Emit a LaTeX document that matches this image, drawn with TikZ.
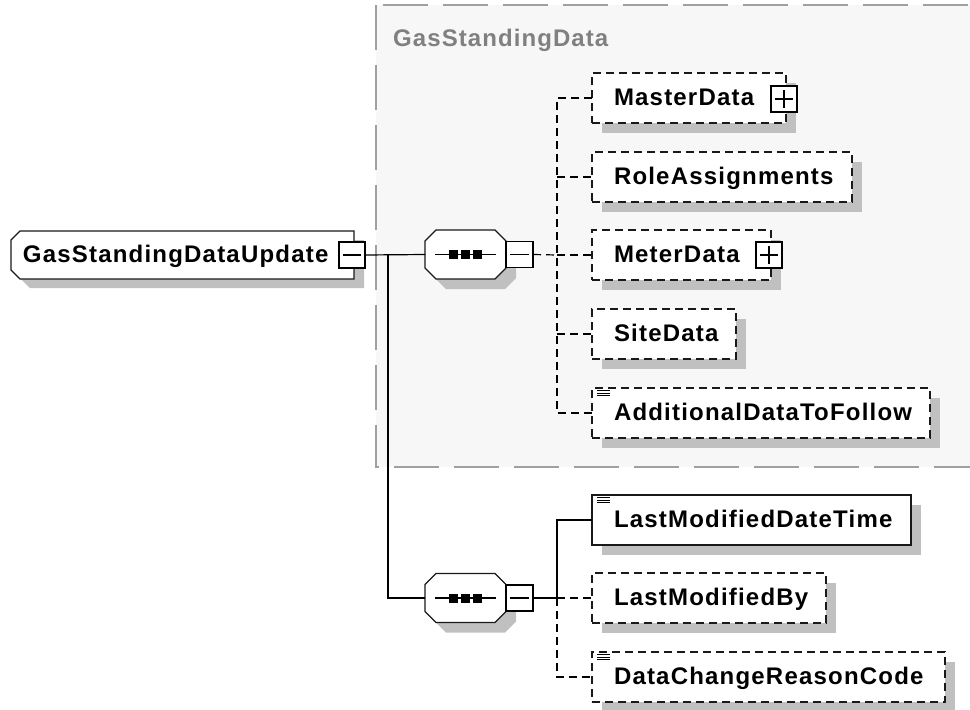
\documentclass[tikz,border=0pt]{standalone}
\usepackage{fontspec}
\setmainfont{Liberation Sans}
\newfontfamily\elemfont[LetterSpace=5]{Liberation Sans}
\newfontfamily\grpfont[LetterSpace=4.5]{Liberation Sans}
\usetikzlibrary{calc,shadows}
\definecolor{shd}{HTML}{C0C0C0}
\definecolor{grpfill}{HTML}{F7F7F7}
\definecolor{grpline}{HTML}{A0A0A0}
\definecolor{grptext}{HTML}{808080}
\tikzset{
  dsh/.style={dash pattern=on 8pt off 5pt},
  con/.style={draw=black, line width=1.2pt},
  dcon/.style={con, dsh},
  elembox/.style={rectangle, draw=black!90, line width=1.2pt, fill=white,
    inner sep=0pt, outer sep=0pt, anchor=north west, minimum height=50pt,
    drop shadow={shadow xshift=10pt, shadow yshift=-10pt, fill=shd, opacity=1}},
  optbox/.style={elembox, dsh},
  holder/.style={rectangle, draw=none, inner sep=0pt, outer sep=0pt},
  pmbox/.style={rectangle, draw=black, fill=white, line width=1.1pt, inner sep=0pt,
    outer sep=0pt, minimum width=26pt, minimum height=26pt},
  txt/.style={font=\elemfont\bfseries\fontsize{24pt}{28pt}\selectfont, inner sep=0pt,
    outer sep=0pt, anchor=base west, text=black},
  grptxt/.style={font=\grpfont\bfseries\fontsize{24pt}{28pt}\selectfont, inner sep=0pt,
    anchor=base west, text=grptext},
}
% octagon path: node, chamfer, dx, dy
\newcommand\octpath[4]{($(#1.north west)+(#2+#3,#4)$) -- ($(#1.north east)+(-#2+#3,#4)$) -- ($(#1.north east)+(#3,#2+#4)$) -- ($(#1.south east)+(#3,-#2+#4)$) -- ($(#1.south east)+(-#2+#3,#4)$) -- ($(#1.south west)+(#2+#3,#4)$) -- ($(#1.south west)+(#3,-#2+#4)$) -- ($(#1.north west)+(#3,#2+#4)$) -- cycle}
% left-chamfered path: node, chamfer, dx, dy
\newcommand\lchpath[4]{($(#1.north west)+(#2+#3,#4)$) -- ($(#1.north east)+(#3,#4)$) -- ($(#1.south east)+(#3,#4)$) -- ($(#1.south west)+(#2+#3,#4)$) -- ($(#1.south west)+(#3,-#2+#4)$) -- ($(#1.north west)+(#3,#2+#4)$) -- cycle}
\newcommand\minussign[1]{\draw[line width=1.1pt] ($(#1.west)+(4,0)$) -- ($(#1.east)+(-4,0)$);}
\newcommand\plussign[1]{\minussign{#1}\draw[line width=1.1pt] ($(#1.north)+(0,4)$) -- ($(#1.south)+(0,-4)$);}
\newcommand\triline[1]{\foreach \yy in {2.5,5,7.5}{\draw[line width=0.8pt] ($(#1.north west)+(5,\yy)$) -- ++(13,0);}}
\begin{document}
\begin{tikzpicture}[x=1pt,y=-1pt]
\useasboundingbox (0,0) rectangle (970,710);
\clip (0,0) rectangle (970,710);
% group
\draw[fill=grpfill, draw=grpline, line width=1.3pt, dash pattern=on 45pt off 15pt] (376,5) rectangle (990,467);
\node[grptxt] (glabel) at (393,46) {GasStandingData};

% root element
\node[holder, anchor=north west, minimum width=343pt, minimum height=48pt] (g) at (11,231) {};
\fill[shd] \lchpath{g}{9}{10}{9};
\draw[fill=white, draw=black!90, line width=1.2pt] \lchpath{g}{9}{0}{0};
\node[txt] (gt) at (23,262) {GasStandingDataUpdate};
\node[pmbox] (gm) at (352,255) {};
\minussign{gm}

% sequence 1
\node[holder, minimum width=81pt, minimum height=49pt] (s1) at (465.5,254.5) {};
\fill[shd] \octpath{s1}{11}{10}{10};
\draw[fill=white, draw=black!90, line width=1.2pt] \octpath{s1}{11}{0}{0};
\draw[line width=1.1pt] ($(s1.west)+(10,0)$) -- ($(s1.east)+(-10,0)$);
\foreach \dx in {-12,0,12}{\fill ($(s1.center)+(\dx-4.5,-4.5)$) rectangle +(9,9);}
\node[pmbox, anchor=west, minimum width=27pt] (s1m) at (s1.east) {};
\minussign{s1m}

% sequence 2
\node[holder, minimum width=81pt, minimum height=49pt] (s2) at (465.5,598) {};
\fill[shd] \octpath{s2}{11}{10}{10};
\draw[fill=white, draw=black!90, line width=1.2pt] \octpath{s2}{11}{0}{0};
\draw[line width=1.1pt] ($(s2.west)+(10,0)$) -- ($(s2.east)+(-10,0)$);
\foreach \dx in {-12,0,12}{\fill ($(s2.center)+(\dx-4.5,-4.5)$) rectangle +(9,9);}
\node[pmbox, anchor=west, minimum width=27pt] (s2m) at (s2.east) {};
\minussign{s2m}

% children of sequence 1
\node[optbox, minimum width=194pt] (md) at (592,73) {};
\node[txt] (mdt) at ($(md.north west)+(22,32)$) {MasterData};
\node[pmbox] (mdp) at ($(md.east)+(-2,1)$) {};
\plussign{mdp}

\node[optbox, minimum width=260pt] (ra) at (592,152) {};
\node[txt] (rat) at ($(ra.north west)+(22,32)$) {RoleAssignments};

\node[optbox, minimum width=179pt] (me) at (592,230) {};
\node[txt] (met) at ($(me.north west)+(22,32)$) {MeterData};
\node[pmbox] (mep) at ($(me.east)+(-2,0)$) {};
\plussign{mep}

\node[optbox, minimum width=144pt] (sd) at (592,309) {};
\node[txt] (sdt) at ($(sd.north west)+(22,32)$) {SiteData};

\node[optbox, minimum width=338pt] (ad) at (592,388) {};
\node[txt] (adt) at ($(ad.north west)+(22,32)$) {AdditionalDataToFollow};
\triline{ad}

% children of sequence 2
\node[elembox, minimum width=319pt] (lt) at (592,495) {};
\node[txt] (ltt) at ($(lt.north west)+(22,32)$) {LastModifiedDateTime};
\triline{lt}

\node[optbox, minimum width=234pt] (lb) at (592,573) {};
\node[txt] (lbt) at ($(lb.north west)+(22,32)$) {LastModifiedBy};

\node[optbox, minimum width=353pt] (dc) at (592,652) {};
\node[txt] (dct) at ($(dc.north west)+(22,32)$) {DataChangeReasonCode};
\triline{dc}

% connectors
\coordinate (j0) at (388,255);
\draw[con] (gm.east) -- (s1.west);
\draw[con] (j0) |- (s2.west);

\coordinate (j1) at (557,255);
\draw[dcon] (s1m.east) -- (j1);
\draw[dcon] (md.west) -- (md.west -| j1) -- (ad.west -| j1) -- (ad.west);
\draw[dcon] (j1 |- ra.west) -- (ra.west);
\draw[dcon] (j1 |- me.west) -- (me.west);
\draw[dcon] (j1 |- sd.west) -- (sd.west);

\coordinate (j2) at (557,598);
\draw[con] (s2m.east) -- (j2) |- (lt.west);
\draw[dcon] (j2) -- (lb.west);
\draw[dcon] (j2) |- (dc.west);
\end{tikzpicture}
\end{document}
